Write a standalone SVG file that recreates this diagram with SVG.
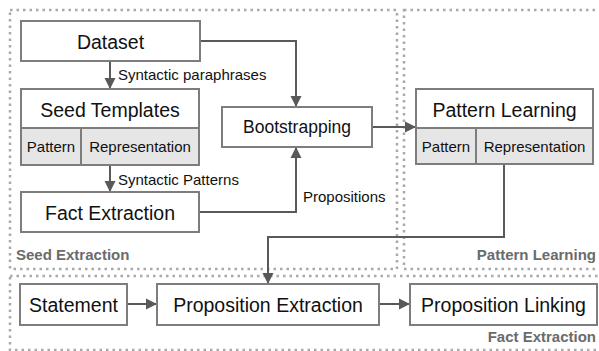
<svg xmlns="http://www.w3.org/2000/svg" width="599" height="351" viewBox="0 0 599 351">
<style>
.bg{fill:#ffffff}
.region{fill:none;stroke:#a9a9a9;stroke-width:2.5;stroke-dasharray:2.5 4}
.box{fill:#ffffff;stroke:#7d7d7d;stroke-width:2}
.cell{fill:#e6e6e6;stroke:#7d7d7d;stroke-width:2}
.t{font-family:"Liberation Sans",Arial,sans-serif;fill:#111;text-anchor:middle}
.big{font-size:19.5px}
.mid{font-size:17.5px}
.sm{font-size:15px}
.lbl{font-family:"Liberation Sans",Arial,sans-serif;font-size:15px;fill:#111}
.sec{font-family:"Liberation Sans",Arial,sans-serif;font-size:15px;font-weight:bold;fill:#6b6b6b}
.edge{fill:none;stroke:#595959;stroke-width:2}
</style>
<defs>
<marker id="arr" markerUnits="userSpaceOnUse" markerWidth="12" markerHeight="12" viewBox="0 0 12 12" refX="11" refY="6" orient="auto">
<path d="M0,0.5 L11,6 L0,11.5 Z" fill="#595959"/>
</marker>
</defs>
<rect class="bg" x="0" y="0" width="599" height="351"/>
<g id="regions">
<rect class="region" x="10" y="10" width="387" height="259"/>
<rect class="region" x="404" y="10" width="200" height="259"/>
<rect class="region" x="10" y="276" width="594" height="74"/>
<text class="sec" x="16" y="260">Seed Extraction</text>
<text class="sec" x="596" y="260" text-anchor="end">Pattern Learning</text>
<text class="sec" x="596" y="342" text-anchor="end">Fact Extraction</text>
</g>
<g id="connectors">
<path class="edge" d="M110,61 V89" marker-end="url(#arr)"/>
<path class="edge" d="M200,41 H296 V107" marker-end="url(#arr)"/>
<path class="edge" d="M110,165 V192" marker-end="url(#arr)"/>
<path class="edge" d="M199,212 H296 V147" marker-end="url(#arr)"/>
<path class="edge" d="M372,127 H416" marker-end="url(#arr)"/>
<path class="edge" d="M504,164 V237 H268 V284" marker-end="url(#arr)"/>
<path class="edge" d="M127,304 H157" marker-end="url(#arr)"/>
<path class="edge" d="M379,304 H410" marker-end="url(#arr)"/>
<text class="lbl" x="118" y="80">Syntactic paraphrases</text>
<text class="lbl" x="118" y="185">Syntactic Patterns</text>
<text class="lbl" x="303" y="202">Propositions</text>
</g>
<g id="dataset">
<rect class="box" x="21" y="21" width="179" height="40"/>
<text class="t big" x="110.5" y="49">Dataset</text>
</g>
<g id="seed-templates">
<rect class="box" x="21" y="89" width="178" height="39"/>
<text class="t big" x="110" y="117">Seed Templates</text>
<rect class="cell" x="21" y="128" width="60" height="37"/>
<rect class="cell" x="81" y="128" width="118" height="37"/>
<text class="t sm" x="51" y="152">Pattern</text>
<text class="t sm" x="140" y="152">Representation</text>
</g>
<g id="bootstrapping">
<rect class="box" x="222" y="107" width="150" height="40"/>
<text class="t mid" x="297" y="133">Bootstrapping</text>
</g>
<g id="fact-extraction">
<rect class="box" x="21" y="192" width="178" height="40"/>
<text class="t big" x="110" y="220">Fact Extraction</text>
</g>
<g id="pattern-learning">
<rect class="box" x="416" y="89" width="177" height="39"/>
<text class="t big" x="504.5" y="117">Pattern Learning</text>
<rect class="cell" x="416" y="128" width="60" height="36"/>
<rect class="cell" x="476" y="128" width="117" height="36"/>
<text class="t sm" x="446" y="152">Pattern</text>
<text class="t sm" x="534.5" y="152">Representation</text>
</g>
<g id="statement">
<rect class="box" x="20" y="284" width="107" height="41"/>
<text class="t big" x="73.5" y="312">Statement</text>
</g>
<g id="proposition-extraction">
<rect class="box" x="157" y="284" width="222" height="41"/>
<text class="t big" x="268" y="312">Proposition Extraction</text>
</g>
<g id="proposition-linking">
<rect class="box" x="410" y="284" width="187" height="41"/>
<text class="t big" x="503.5" y="312">Proposition Linking</text>
</g>
</svg>
